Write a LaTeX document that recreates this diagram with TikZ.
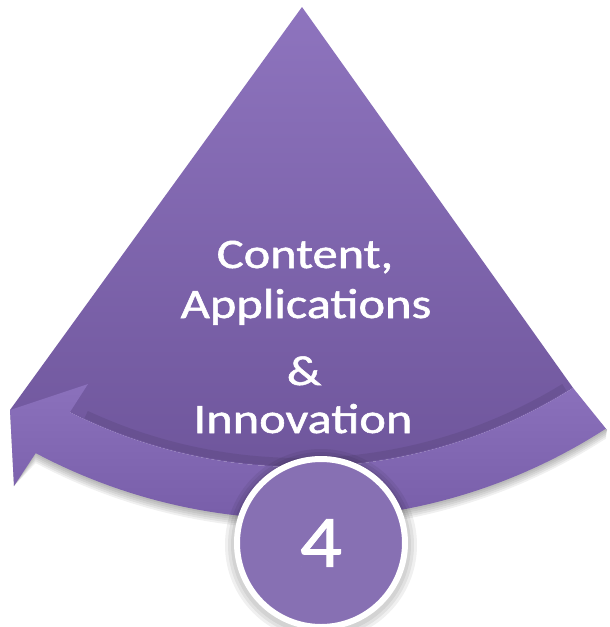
\documentclass[tikz,border=0pt]{standalone}
\usepackage{fontspec}
\setmainfont{Carlito}
\newfontfamily\lblfont[FakeBold=1.2]{Carlito}
\definecolor{bodytop}{HTML}{8E74BE}
\definecolor{bodybot}{HTML}{6F569C}
\definecolor{bandtop}{HTML}{8B71BC}
\definecolor{bandbot}{HTML}{785EA9}
\definecolor{discfill}{HTML}{8770B3}
\tikzset{
  labeltext/.style={text=white, font=\lblfont\fontsize{42}{50}\selectfont, anchor=base, inner sep=0pt, xscale=1.2},
  numtext/.style={text=white, font=\lblfont\fontsize{74}{80}\selectfont, inner sep=0pt, xscale=1.12},
  shadowfill/.style={fill=black, opacity=0.06},
}
\begin{document}
\begin{tikzpicture}[x=1pt,y=-1pt]
\useasboundingbox (0,0) rectangle (610,627);
\fill[white] (0,0) rectangle (610,627);
\coordinate (apex) at (302,7);
\coordinate (lcorner) at (10,410);
\coordinate (barb) at (88,384);
\coordinate (notch) at (70,412);
\coordinate (rcorner) at (607,430);
\coordinate (tip) at (14,486);
% soft shadow below band
\foreach \d in {2,4,6,8,10}{
  \fill[shadowfill, shift={(0,\d)}]
    (notch) -- plot[domain=116.8:57.7, samples=60] ({300+511*cos(\x)},{-44+511*sin(\x)})
    -- (rcorner) -- plot[domain=57.1:118, samples=60] ({300+563*cos(\x)},{-44+563*sin(\x)})
    -- (tip) -- (lcorner) -- cycle;
}
% main body
\shade[top color=bodytop, bottom color=bodybot]
  (apex) -- (lcorner) -- (notch)
  -- plot[domain=116.8:57.7, samples=60] ({300+511*cos(\x)},{-44+511*sin(\x)})
  -- cycle;
% darker lip above band
\draw[black, opacity=0.08, line width=8pt]
  plot[domain=115:58.5, samples=60] ({300+506*cos(\x)},{-44+506*sin(\x)});
% band with arrowhead
\shade[top color=bandtop, bottom color=bandbot]
  (notch) -- plot[domain=116.8:57.7, samples=60] ({300+511*cos(\x)},{-44+511*sin(\x)})
  -- (rcorner) -- plot[domain=57.1:118, samples=60] ({300+563*cos(\x)},{-44+563*sin(\x)})
  -- (tip) -- (lcorner) -- (barb) -- cycle;
% circle shadow
\foreach \d in {3,6,9}{
  \fill[shadowfill] (321,545) circle[radius=87+\d];
}
\node[circle, fill=discfill, draw=white, line width=6pt, minimum size=168pt, inner sep=0pt] (disc) at (321,543) {};
\node[numtext] (num) at (disc.center) {4};
% labels
\node[labeltext] (t1) at (305,268) {Content,};
\node[labeltext] (t2) at (306,318) {Applications};
\node[labeltext] (t3) at (304,385) {\&};
\node[labeltext] (t4) at (303,433) {Innovation};
\end{tikzpicture}
\end{document}
